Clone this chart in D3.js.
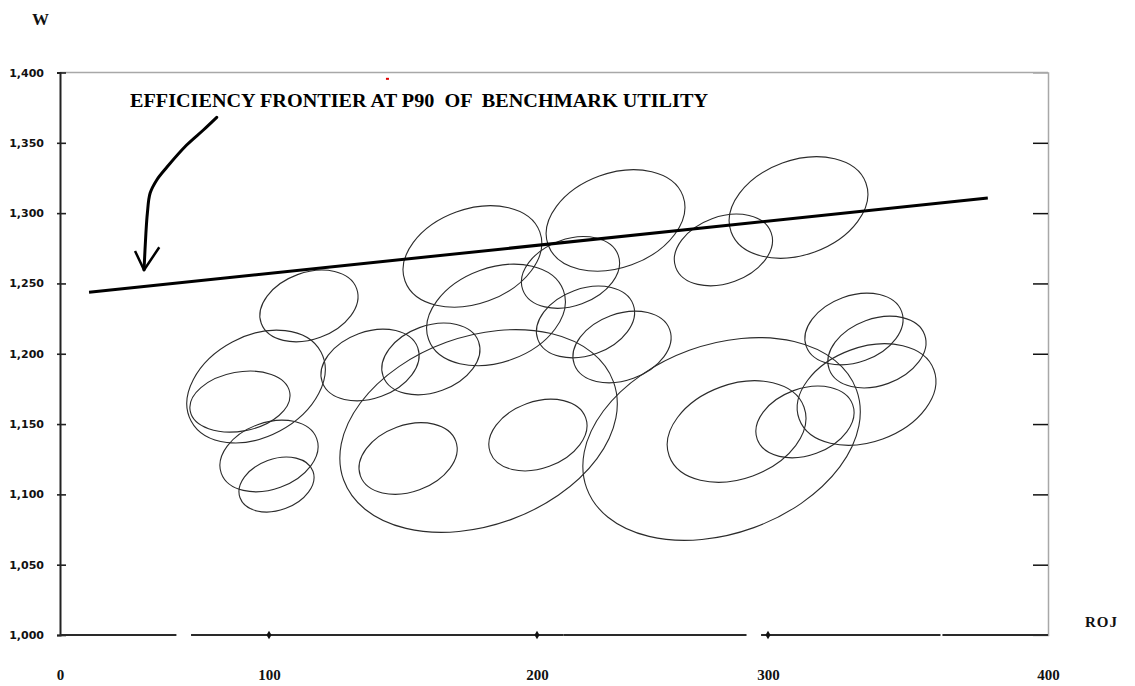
<!DOCTYPE html>
<html><head><meta charset="utf-8">
<script src="https://cdn.jsdelivr.net/npm/d3@7/dist/d3.min.js"></script>
<style>html,body{margin:0;padding:0;background:#fff}</style>
</head><body>
<svg id="c" width="1135" height="686"></svg>
<script>
// ---- data ----
const rojTicks = [0, 100, 200, 300, 400];
const wTicks = [1000, 1050, 1100, 1150, 1200, 1250, 1300, 1350, 1400];
const wInnerTicks = [1050, 1100, 1150, 1200, 1250, 1300, 1350];
const titleText = "EFFICIENCY FRONTIER AT P90  OF  BENCHMARK UTILITY";
const yLabel = "W";
const xLabel = "ROJ";

const frontierROJ = [13.9, 378.5];
const frontierW = [1243.7, 1310.7];

const ellipseROJ = [93.8, 86.1, 100.0, 102.8, 114.9, 137.7, 160.4, 178.2, 151.9, 200.4, 175.9, 184.7, 214.5, 221.0, 236.8, 234.0, 280.7, 310.9, 279.9, 286.4, 313.2, 330.7, 338.9, 335.2];
const ellipseW = [1176.7, 1166.0, 1127.3, 1107.0, 1234.0, 1192.0, 1196.3, 1145.1, 1125.5, 1142.2, 1269.2, 1227.6, 1257.8, 1222.6, 1204.8, 1294.8, 1273.8, 1304.0, 1139.4, 1144.7, 1151.5, 1217.6, 1201.2, 1171.0];
const ellipseMajor = [52.3, 36.0, 36.1, 27.6, 36.1, 36.1, 36.1, 102.1, 36.1, 36.1, 51.0, 51.0, 36.1, 36.1, 36.1, 51.0, 36.1, 51.0, 102.1, 51.0, 36.1, 36.1, 36.1, 51.0];
const ellipseMinor = [35.9, 21.0, 23.7, 18.2, 23.7, 23.7, 23.7, 67.1, 23.7, 23.7, 33.6, 33.6, 23.7, 23.7, 23.7, 33.6, 23.7, 33.6, 67.1, 33.6, 23.7, 23.7, 23.7, 33.6];
const ellipseTilt = [28, 10.6, 20, 20, 20, 20, 20, 20, 20, 20, 20, 20, 20, 20, 20, 20, 20, 20, 20, 20, 20, 20, 20, 20];

const axisSegStart = [0, 62.7, 211.5, 297.0, 362.3];
const axisSegEnd = [55.7, 211.5, 290.7, 361.6, 400];
const axisDots = [100, 200, 300];

const arrowROJ = [75.0, 68.6, 60.6, 51.1, 46.3, 43.1, 41.8, 41.1, 40.2];
const arrowW = [1368.1, 1359.1, 1348.4, 1332.6, 1323.6, 1314.1, 1299.9, 1285.7, 1259.6];
const arrowHeadROJ = [35.9, 40.2, 47.5];
const arrowHeadW = [1273.1, 1259.6, 1275.7];

const redSpeckROJ = [144.2];
const redSpeckW = [1395.5];

// ---- scales ----
const svg = d3.select("#c");
const x = d3.scaleLinear().domain(rojTicks).range([60, 269, 537, 768, 1048]);
const y = d3.scaleLinear().domain([1000, 1400]).range([635, 72.5]);
const wLen = v => y(1000) - y(1000 + v);

const serif = "'Liberation Serif','Times New Roman',serif";

// top & right borders (gray)
svg.append("line").attr("x1", x(0)).attr("x2", x(400)).attr("y1", y(1400)).attr("y2", y(1400))
  .attr("stroke", "#a8a8a8").attr("stroke-width", 1.5);
const right = svg.append("g").attr("transform", `translate(${x(400)},0)`)
  .call(d3.axisLeft(y).tickValues(wInnerTicks).tickSize(15).tickFormat(""));
right.select(".domain").attr("stroke", "#a8a8a8").attr("stroke-width", 1.5);
right.selectAll(".tick line").attr("stroke", "#111").attr("stroke-width", 1.5);

// left axis
const left = svg.append("g").attr("transform", `translate(${x(0)},0)`)
  .call(d3.axisLeft(y).tickValues(wTicks).tickFormat(d3.format(",")).tickSize(3).tickPadding(13));
left.select(".domain").attr("stroke", "#222").attr("stroke-width", 2);
left.selectAll(".tick line").attr("x1", -3).attr("x2", 6).attr("stroke", "#222").attr("stroke-width", 1.6);
left.selectAll(".tick text").attr("font-family", "'DejaVu Sans',sans-serif").attr("font-size", 11)
  .attr("font-weight", "bold").attr("fill", "#111");

// bottom axis (labels only) + broken line
const bottom = svg.append("g").attr("transform", `translate(0,${y(1000)})`)
  .call(d3.axisBottom(x).tickValues(rojTicks).tickFormat(d3.format("d")).tickSize(0).tickPadding(34));
bottom.select(".domain").remove();
bottom.selectAll(".tick text").attr("font-family", serif).attr("font-size", 15)
  .attr("font-weight", "bold").attr("fill", "#111");

svg.append("g").selectAll("line").data(axisSegStart).join("line")
  .attr("x1", (d) => x(d)).attr("x2", (d, i) => x(axisSegEnd[i]))
  .attr("y1", y(1000)).attr("y2", y(1000))
  .attr("stroke", "#2a2a2a").attr("stroke-width", 2);
svg.append("g").selectAll("path").data(axisDots).join("path")
  .attr("d", d3.symbol(d3.symbolDiamond, 22))
  .attr("transform", d => `translate(${x(d)},${y(1000)})`)
  .attr("fill", "#111");

// ellipses
svg.append("g").selectAll("ellipse").data(ellipseROJ).join("ellipse")
  .attr("transform", (d, i) => `translate(${x(d)},${y(ellipseW[i])}) rotate(${-ellipseTilt[i]})`)
  .attr("rx", (d, i) => wLen(ellipseMajor[i]))
  .attr("ry", (d, i) => wLen(ellipseMinor[i]))
  .attr("fill", "none").attr("stroke", "#2b2b2b").attr("stroke-width", 1.1);

// frontier
const line = d3.line().x(d => x(d[0])).y(d => y(d[1]));
svg.append("path").datum(frontierROJ.map((d, i) => [d, frontierW[i]]))
  .attr("d", line).attr("fill", "none").attr("stroke", "#000").attr("stroke-width", 3);

// arrow
const curve = d3.line().x(d => x(d[0])).y(d => y(d[1])).curve(d3.curveCatmullRom);
svg.append("path").datum(arrowROJ.map((d, i) => [d, arrowW[i]]))
  .attr("d", curve).attr("fill", "none").attr("stroke", "#000").attr("stroke-width", 3)
  .attr("stroke-linecap", "round");
svg.append("path").datum(arrowHeadROJ.map((d, i) => [d, arrowHeadW[i]]))
  .attr("d", line).attr("fill", "none").attr("stroke", "#000").attr("stroke-width", 2.5)
  .attr("stroke-linejoin", "round");

// small red speck near top border
svg.append("g").selectAll("rect").data(redSpeckROJ).join("rect")
  .attr("x", d => x(d) - 1.5).attr("y", (d, i) => y(redSpeckW[i]) - 1)
  .attr("width", 3).attr("height", 2).attr("fill", "#e00000");

// texts
svg.append("text").attr("x", 130).attr("y", 107).text(titleText)
  .attr("font-family", serif).attr("font-weight", "bold").attr("font-size", 18)
  .attr("textLength", 578).attr("lengthAdjust", "spacingAndGlyphs").attr("fill", "#000")
  .style("white-space", "pre");
svg.append("text").attr("x", 32).attr("y", 25).text(yLabel)
  .attr("font-family", serif).attr("font-weight", "bold").attr("font-size", 17).attr("fill", "#111");
svg.append("text").attr("x", 1085).attr("y", 627).text(xLabel)
  .attr("font-family", serif).attr("font-weight", "bold").attr("font-size", 15)
  .attr("letter-spacing", 1).attr("fill", "#111");
</script>
</body></html>
